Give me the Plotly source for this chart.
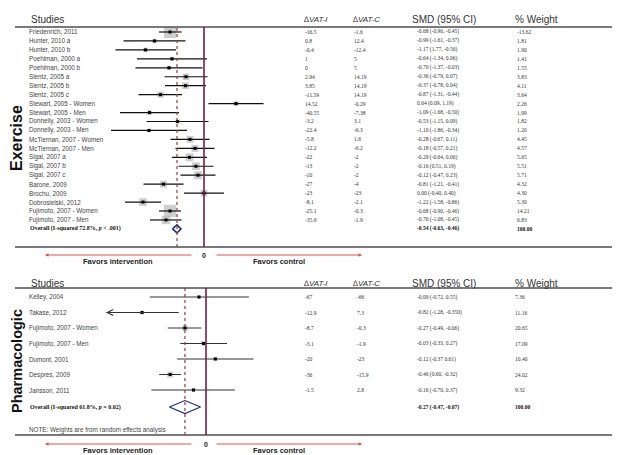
import plotly.graph_objects as go

W, H = 625, 455
OX, OY = 8, 8          # default page body margin of the html page
FW, FH = W - OX, H - OY

# ---------------- Exercise panel data ----------------
ex_studies = ["Friedenrich, 2011", "Hunter, 2010 a", "Hunter, 2010 b", "Poehlman, 2000 a",
              "Poehlman, 2000 b", "Slentz, 2005 a", "Slentz, 2005 b", "Slentz, 2005 c",
              "Stewart, 2005 - Women", "Stewart, 2005 - Men", "Donnelly, 2003 - Women",
              "Donnelly, 2003 - Men", "McTiernan, 2007 - Women", "McTiernan, 2007 - Men",
              "Sigal, 2007 a", "Sigal, 2007 b", "Sigal, 2007 c", "Barone, 2009", "Brochu, 2009",
              "Dobrosielski, 2012", "Fujimoto, 2007 - Women", "Fujimoto, 2007 - Men"]
ex_dvat_i = ["-16.5", "0.8", "-0.4", "1", "0", "2.94", "3.85", "-11.59", "14.52", "-40.55", "-3.2",
             "-22.4", "-5.8", "-12.2", "-22", "-13", "-10", "-27", "-23", "-8.1", "-25.1", "-35.6"]
ex_dvat_c = ["-1.6", "12.4", "-12.4", "5", "5", "14.19", "14.19", "14.19", "-0.29", "-7.38", "3.1",
             "-6.3", "1.6", "-6.2", "-2", "-2", "-2", "-4", "-23", "-2.1", "-0.3", "-1.9"]
ex_smd = [-0.68, -0.99, -1.17, -0.64, -0.70, -0.36, -0.37, -0.87, 0.64, -1.09, -0.53,
          -1.10, -0.28, -0.18, -0.29, -0.16, -0.12, -0.81, 0.00, -1.22, -0.68, -0.76]
ex_lo = [-0.90, -1.61, -1.77, -1.34, -1.37, -0.79, -0.78, -1.31, 0.09, -1.68, -1.15,
         -1.86, -0.67, -0.57, -0.64, -0.51, -0.47, -1.21, -0.40, -1.58, -0.90, -1.08]
ex_hi = [-0.45, -0.37, -0.56, 0.06, -0.03, 0.07, 0.04, -0.44, 1.19, -0.50, 0.09,
         -0.34, 0.11, 0.21, 0.06, 0.19, 0.23, -0.41, 0.40, -0.86, -0.46, -0.45]
ex_smd_labels = ["-0.68 (-0.90, -0.45)", "-0.99 (-1.61, -0.37)", "-1.17 (1.77, -0.56)",
                 "-0.64 (-1.34, 0.06)", "-0.70 (-1.37, -0.03)", "-0.36 (-0.79, 0.07)",
                 "-0.37 (-0.78, 0.04)", "-0.87 (-1.31, -0.44)", "0.64 (0.09, 1.19)",
                 "-1.09 (-1.68, -0.50)", "-0.53 (-1.15, 0.09)", "-1.10 (-1.86, -0.34)",
                 "-0.28 (-0.67, 0.11)", "-0.18 (-0.57, 0.21)", "-0.29 (-0.64, 0.06)",
                 "-0.16 (0.51, 0.19)", "-0.12 (-0.47, 0.23)", "-0.81 (-1.21, -0.41)",
                 "0.00 (-0.40, 0.40)", "-1.22 (-1.58, -0.86)", "-0.68 (-0.90, -0.46)",
                 "-0.76 (-1.08, -0.45)"]
ex_weight = [13.62, 1.81, 1.90, 1.41, 1.55, 3.83, 4.11, 3.64, 2.26, 1.99, 1.82,
             1.20, 4.45, 4.57, 5.65, 5.51, 5.71, 4.32, 4.30, 5.30, 14.21, 6.83]
ex_weight_labels = ["-13.62", "1.81", "1.90", "1.41", "1.55", "3.83", "4.11", "3.64", "2.26",
                    "1.99", "1.82", "1.20", "4.45", "4.57", "5.65", "5.51", "5.71", "4.32",
                    "4.30", "5.30", "14.21", "6.83"]
ex_overall = -0.54
ex_overall_lo = -0.63
ex_overall_hi = -0.46
ex_overall_label = "Overall (I-squared 72.8%, <i>p</i> &lt; .001)"
ex_overall_smd = "-0.54 (-0.63, -0.46)"

# ---------------- Pharmacologic panel data ----------------
ph_studies = ["Kelley, 2004", "Takase, 2012", "Fujimoto, 2007 - Women", "Fujimoto, 2007 - Men",
              "Dumont, 2001", "Despres, 2009", "Jansson, 2011"]
ph_dvat_i = ["-67", "-12.9", "-8.7", "-3.1", "-20", "-36", "-1.5"]
ph_dvat_c = ["-66", "7.3", "-0.3", "-1.9", "-23", "-15.9", "2.8"]
ph_smd = [-0.09, -0.82, -0.27, -0.03, 0.12, -0.46, -0.16]
ph_lo = [-0.72, -1.28, -0.49, -0.33, -0.37, -0.60, -0.70]
ph_hi = [0.55, -0.35, -0.06, 0.27, 0.61, -0.32, 0.37]
ph_smd_labels = ["-0.09 (-0.72, 0.55)", "-0.82 (-1.28, -0.350)", "-0.27 (-0.49, -0.06)",
                 "-0.03 (-0.33, 0.27)", "-0.12 (-0.37 0.61)", "-0.46 (0.60, -0.32)",
                 "-0.16 (-0.70, 0.37)"]
ph_weight = [7.36, 11.16, 20.65, 17.09, 10.40, 24.02, 9.32]
ph_weight_labels = ["7.36", "11.16", "20.65", "17.09", "10.40", "24.02", "9.32"]
ph_overall = -0.27
ph_overall_lo = -0.47
ph_overall_hi = -0.07
ph_overall_label = "Overall (I-squared 61.8%, <i>p</i> = 0.02)"
ph_overall_smd = "-0.27 (-0.47, -0.07)"

headers = ["Studies", "\u2206VAT-I", "\u2206VAT-C", "SMD (95% CI)", "% Weight"]


def py(p):
    return 1 - (p - OY) / FH


def px(p):
    return (p - OX) / FW


fig = go.Figure()

SANS = "Liberation Sans, Arial, sans-serif"
SERIF = "Liberation Serif, Times New Roman, serif"

# ---------- Exercise marks ----------
ex_idx = list(range(len(ex_studies)))
fig.add_trace(go.Scatter(x=ex_smd, y=ex_idx, mode="markers", xaxis="x", yaxis="y",
                         marker=dict(symbol="square", color="#b9b9b9",
                                     size=[3.3 * w ** 0.5 for w in ex_weight], line=dict(width=0)),
                         hoverinfo="skip", showlegend=False))
cx, cy = [], []
for lo, hi, i in zip(ex_lo, ex_hi, ex_idx):
    cx += [lo, hi, None]
    cy += [i, i, None]
fig.add_trace(go.Scatter(x=cx, y=cy, mode="lines", xaxis="x", yaxis="y",
                         line=dict(color="#111111", width=1.2), hoverinfo="skip", showlegend=False))
fig.add_trace(go.Scatter(x=ex_smd, y=ex_idx, mode="markers", xaxis="x", yaxis="y",
                         marker=dict(symbol="square", color="#000000", size=3),
                         hoverinfo="skip", showlegend=False))
ex_oy = len(ex_studies)
hd = 0.45
fig.add_trace(go.Scatter(x=[ex_overall_lo, ex_overall, ex_overall_hi, ex_overall, ex_overall_lo],
                         y=[ex_oy, ex_oy - hd, ex_oy, ex_oy + hd, ex_oy],
                         mode="lines", fill="toself", fillcolor="white", xaxis="x", yaxis="y",
                         line=dict(color="#1f2a80", width=1.5), hoverinfo="skip", showlegend=False))

# ---------- Pharmacologic marks ----------
ph_idx = list(range(len(ph_studies)))
fig.add_trace(go.Scatter(x=ph_smd, y=ph_idx, mode="markers", xaxis="x2", yaxis="y2",
                         marker=dict(symbol="square", color="#c0c0c0",
                                     size=[1.25 * w ** 0.5 for w in ph_weight], line=dict(width=0)),
                         hoverinfo="skip", showlegend=False))
cx, cy = [], []
for lo, hi, i in zip(ph_lo, ph_hi, ph_idx):
    cx += [lo, hi, None]
    cy += [i, i, None]
fig.add_trace(go.Scatter(x=cx, y=cy, mode="lines", xaxis="x2", yaxis="y2",
                         line=dict(color="#333333", width=1), hoverinfo="skip", showlegend=False))
fig.add_trace(go.Scatter(x=ph_smd, y=ph_idx, mode="markers", xaxis="x2", yaxis="y2",
                         marker=dict(symbol="square", color="#000000", size=3),
                         hoverinfo="skip", showlegend=False))
ph_oy = len(ph_studies) + 0.1
hd2 = 0.42
fig.add_trace(go.Scatter(x=[ph_overall_lo, ph_overall, ph_overall_hi, ph_overall, ph_overall_lo],
                         y=[ph_oy, ph_oy - hd2, ph_oy, ph_oy + hd2, ph_oy],
                         mode="lines", fill="toself", fillcolor="white", xaxis="x2", yaxis="y2",
                         line=dict(color="#1f2a80", width=1.2), hoverinfo="skip", showlegend=False))

annotations = []


def txt(x, y, text, yref="paper", size=6.5, family=SANS, color="#444444", xanchor="left",
        angle=0):
    annotations.append(dict(x=px(x), y=y, xref="paper", yref=yref, text=text, showarrow=False,
                            xanchor=xanchor, yanchor="middle", textangle=angle,
                            font=dict(size=size, family=family, color=color)))


# headers
for hy in (20, 283):
    txt(29, py(hy), headers[0], size=10, color="#333333")
    txt(302, py(hy), "<i>" + headers[1] + "</i>", size=8, color="#333333")
    txt(351, py(hy), "<i>" + headers[2] + "</i>", size=8, color="#333333")
    txt(410, py(hy), headers[3], size=10, color="#333333")
    txt(513, py(hy), headers[4], size=10, color="#333333")

# exercise rows
for i in ex_idx:
    txt(27, i, ex_studies[i], yref="y", size=6.3)
    txt(303, i, ex_dvat_i[i], yref="y", size=5.5, family=SERIF, color="#333333")
    txt(352, i, ex_dvat_c[i], yref="y", size=5.5, family=SERIF, color="#333333")
    txt(415, i, ex_smd_labels[i], yref="y", size=5.5, family=SERIF, color="#333333")
    txt(515, i, ex_weight_labels[i], yref="y", size=5.5, family=SERIF, color="#333333")
txt(28, ex_oy, "<b>" + ex_overall_label + "</b>", yref="y", size=6, family=SERIF, color="#111111")
txt(415, ex_oy, "<b>" + ex_overall_smd + "</b>", yref="y", size=5.5, family=SERIF, color="#111111")
txt(515, ex_oy, "<b>100.00</b>", yref="y", size=5.5, family=SERIF, color="#111111")

# pharmacologic rows
for i in ph_idx:
    txt(27, i, ph_studies[i], yref="y2", size=6.3)
    txt(303, i, ph_dvat_i[i], yref="y2", size=5.5, family=SERIF, color="#333333")
    txt(355, i, ph_dvat_c[i], yref="y2", size=5.5, family=SERIF, color="#333333")
    txt(415, i, ph_smd_labels[i], yref="y2", size=5.5, family=SERIF, color="#333333")
    txt(513, i, ph_weight_labels[i], yref="y2", size=5.5, family=SERIF, color="#333333")
txt(28, ph_oy, "<b>" + ph_overall_label + "</b>", yref="y2", size=6, family=SERIF, color="#111111")
txt(415, ph_oy, "<b>" + ph_overall_smd + "</b>", yref="y2", size=5.5, family=SERIF, color="#111111")
txt(513, ph_oy, "<b>100.00</b>", yref="y2", size=5.5, family=SERIF, color="#111111")
txt(27, py(430), "NOTE: Weights are from random effects analysis", size=6.3)

# panel titles
txt(17, py(138), "<b>Exercise</b>", size=16, color="#111111", xanchor="center", angle=-90)
txt(17, py(361), "<b>Pharmacologic</b>", size=14.5, color="#111111", xanchor="center", angle=-90)

# favors labels and arrows
RED = "#e0524f"
for (ay, zx) in ((255, 204), (444, 206)):
    txt(zx, py(ay), "<b>0</b>", size=7, color="#222222", xanchor="center")
    txt(118, py(ay + 6), "<b>Favors intervention</b>", size=7.5, color="#222222", xanchor="center")
    txt(279, py(ay + 6), "<b>Favors control</b>", size=7.5, color="#222222", xanchor="center")
    annotations.append(dict(x=px(45), y=py(ay), xref="paper", yref="paper", ax=148, ay=0,
                            text="", showarrow=True, arrowhead=2, arrowsize=0.7, arrowwidth=1,
                            arrowcolor=RED))
    annotations.append(dict(x=px(362), y=py(ay), xref="paper", yref="paper", ax=-147, ay=0,
                            text="", showarrow=True, arrowhead=2, arrowsize=0.7, arrowwidth=1,
                            arrowcolor=RED))

# Takase truncated CI arrow
annotations.append(dict(x=ph_lo[1], y=1, xref="x2", yref="y2", ax=ph_hi[1], ay=1,
                        axref="x2", ayref="y2", text="", showarrow=True, arrowhead=5,
                        arrowsize=0.95, arrowwidth=1.2, arrowcolor="#333333"))

shapes = []
for yy in (27, 247, 288, 435):
    shapes.append(dict(type="line", xref="paper", yref="paper", x0=px(15), x1=px(612),
                       y0=py(yy), y1=py(yy), line=dict(color="#4d4d4d", width=1.5)))
for xr, yr, ov in (("x", "y domain", ex_overall), ("x2", "y2 domain", ph_overall)):
    shapes.append(dict(type="line", xref=xr, yref=yr, x0=0, x1=0, y0=0, y1=1,
                       line=dict(color="#7a1e3e", width=1.6)))
    shapes.append(dict(type="line", xref=xr, yref=yr, x0=ov, x1=ov, y0=0, y1=1,
                       line=dict(color="#a3343c", width=1.2, dash="dot")))

fig.update_layout(
    width=FW, height=FH, autosize=False,
    margin=dict(l=0, r=0, t=0, b=0),
    paper_bgcolor="white", plot_bgcolor="rgba(0,0,0,0)",
    xaxis=dict(domain=[0, 1], range=[(OX - 204) / 50, (W - 204) / 50], visible=False, anchor="y"),
    yaxis=dict(domain=[py(247), py(27)], range=[(247 - 32) / 8.95, (27 - 32) / 8.95],
               visible=False, anchor="x"),
    xaxis2=dict(domain=[0, 1], range=[(OX - 206) / 78, (W - 206) / 78], visible=False, anchor="y2"),
    yaxis2=dict(domain=[py(435), py(288)], range=[(435 - 297) / 15.5, (288 - 297) / 15.5],
                visible=False, anchor="x2"),
    annotations=annotations,
    shapes=shapes,
    showlegend=False,
)

fig.write_html("out.html")
